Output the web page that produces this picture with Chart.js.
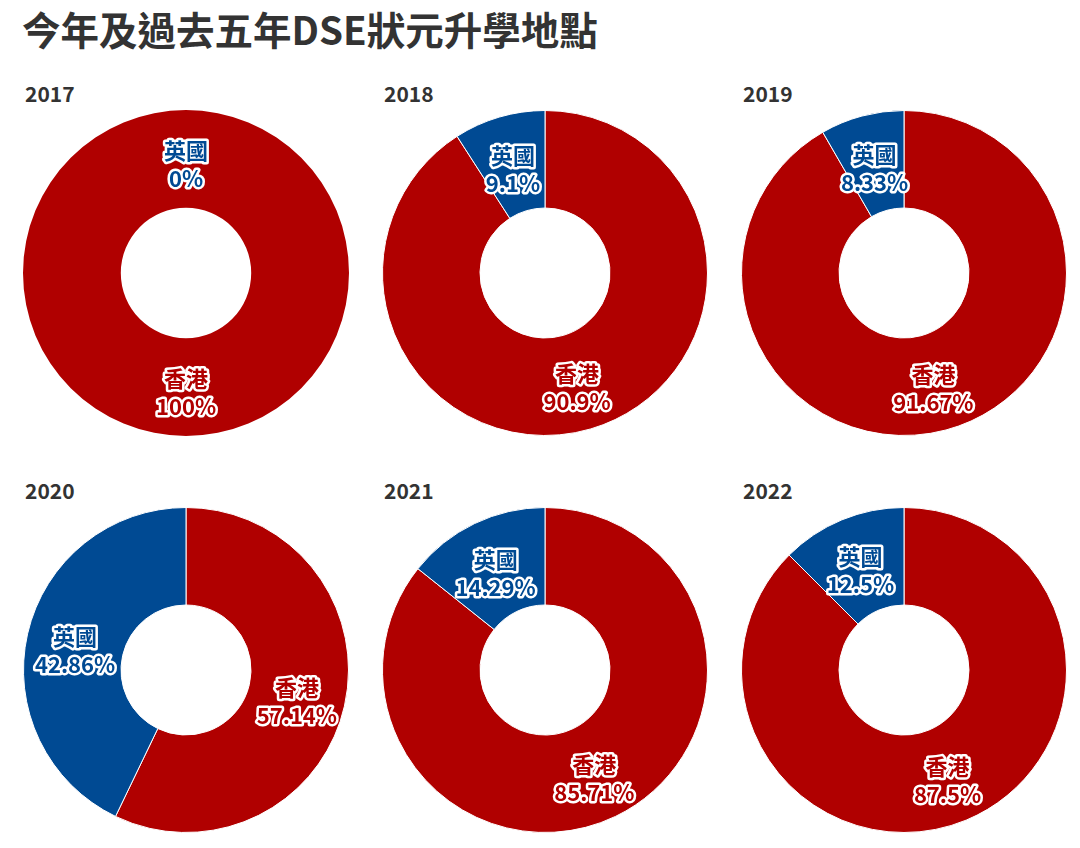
<!DOCTYPE html>
<html>
<head>
<meta charset="utf-8">
<script src="https://cdn.jsdelivr.net/npm/chart.js@4"></script>
<style>
  body { margin: 0; background: #fff; width: 1080px; height: 848px; position: relative; overflow: hidden; font-family: "Noto Sans CJK TC", "Noto Sans", sans-serif; }
  h1 { position: absolute; left: 22px; top: 4px; margin: 0; font-size: 38.5px; font-weight: bold; color: #333; line-height: 48px; }
  .year { position: absolute; font-size: 21px; font-weight: bold; color: #333; line-height: 24px; }
  canvas { position: absolute; }
</style>
</head>
<body>
<h1>今年及過去五年DSE狀元升學地點</h1>
<script>
var years = ['2017', '2018', '2019', '2020', '2021', '2022']
var places = ['香港', '英國']
var hongKong = [100, 90.9, 91.67, 57.14, 85.71, 87.5]
var britain = [0, 9.1, 8.33, 42.86, 14.29, 12.5]
var colours = ['#b00000', '#004a93']

var centresX = [186, 545, 904]
var centresY = [273, 670]
var size = 326

// draws the two-line labels with a white outline in the middle of each slice
var sliceLabels = {
    id: 'sliceLabels',
    afterDatasetsDraw: function(chart) {
        var ctx = chart.ctx
        var meta = chart.getDatasetMeta(0)
        var values = chart.data.datasets[0].data
        ctx.save()
        ctx.font = 'bold 22px "Noto Sans CJK TC", sans-serif'
        ctx.textAlign = 'center'
        ctx.textBaseline = 'middle'
        ctx.lineJoin = 'round'
        meta.data.forEach(function(arc, i) {
            var p = arc.getProps(['x', 'y', 'startAngle', 'endAngle', 'innerRadius', 'outerRadius'], true)
            var mid = (p.startAngle + p.endAngle) / 2
            var r = (p.innerRadius + p.outerRadius) / 2
            var x = p.x + Math.cos(mid) * r
            var y = p.y + Math.sin(mid) * r
            var lines = [chart.data.labels[i], values[i] + '%']
            var offs = [-8, 20]
            lines.forEach(function(t, k) {
                ctx.strokeStyle = '#fff'
                ctx.lineWidth = 5
                ctx.strokeText(t, x, y + offs[k])
                ctx.fillStyle = colours[i]
                ctx.fillText(t, x, y + offs[k])
            })
        })
        ctx.restore()
    }
}

years.forEach(function(year, n) {
    var cx = centresX[n % 3]
    var cy = centresY[Math.floor(n / 3)]

    var label = document.createElement('div')
    label.className = 'year'
    label.textContent = year
    label.style.left = (cx - 161) + 'px'
    label.style.top = (cy - 192) + 'px'
    document.body.appendChild(label)

    var canvas = document.createElement('canvas')
    canvas.width = size
    canvas.height = size
    canvas.style.left = (cx - size / 2) + 'px'
    canvas.style.top = (cy - size / 2) + 'px'
    document.body.appendChild(canvas)

    var values = [hongKong[n], britain[n]]
    new Chart(canvas, {
        type: 'doughnut',
        data: {
            labels: places,
            datasets: [{
                data: values,
                backgroundColor: colours,
                borderColor: '#fff',
                // a full ring has no seam in the original
                borderWidth: values.indexOf(0) >= 0 ? 0 : 1
            }]
        },
        options: {
            responsive: false,
            animation: false,
            cutout: '40%',
            plugins: {
                legend: { display: false },
                tooltip: { enabled: false }
            }
        },
        plugins: [sliceLabels]
    })
})
</script>
</body>
</html>
